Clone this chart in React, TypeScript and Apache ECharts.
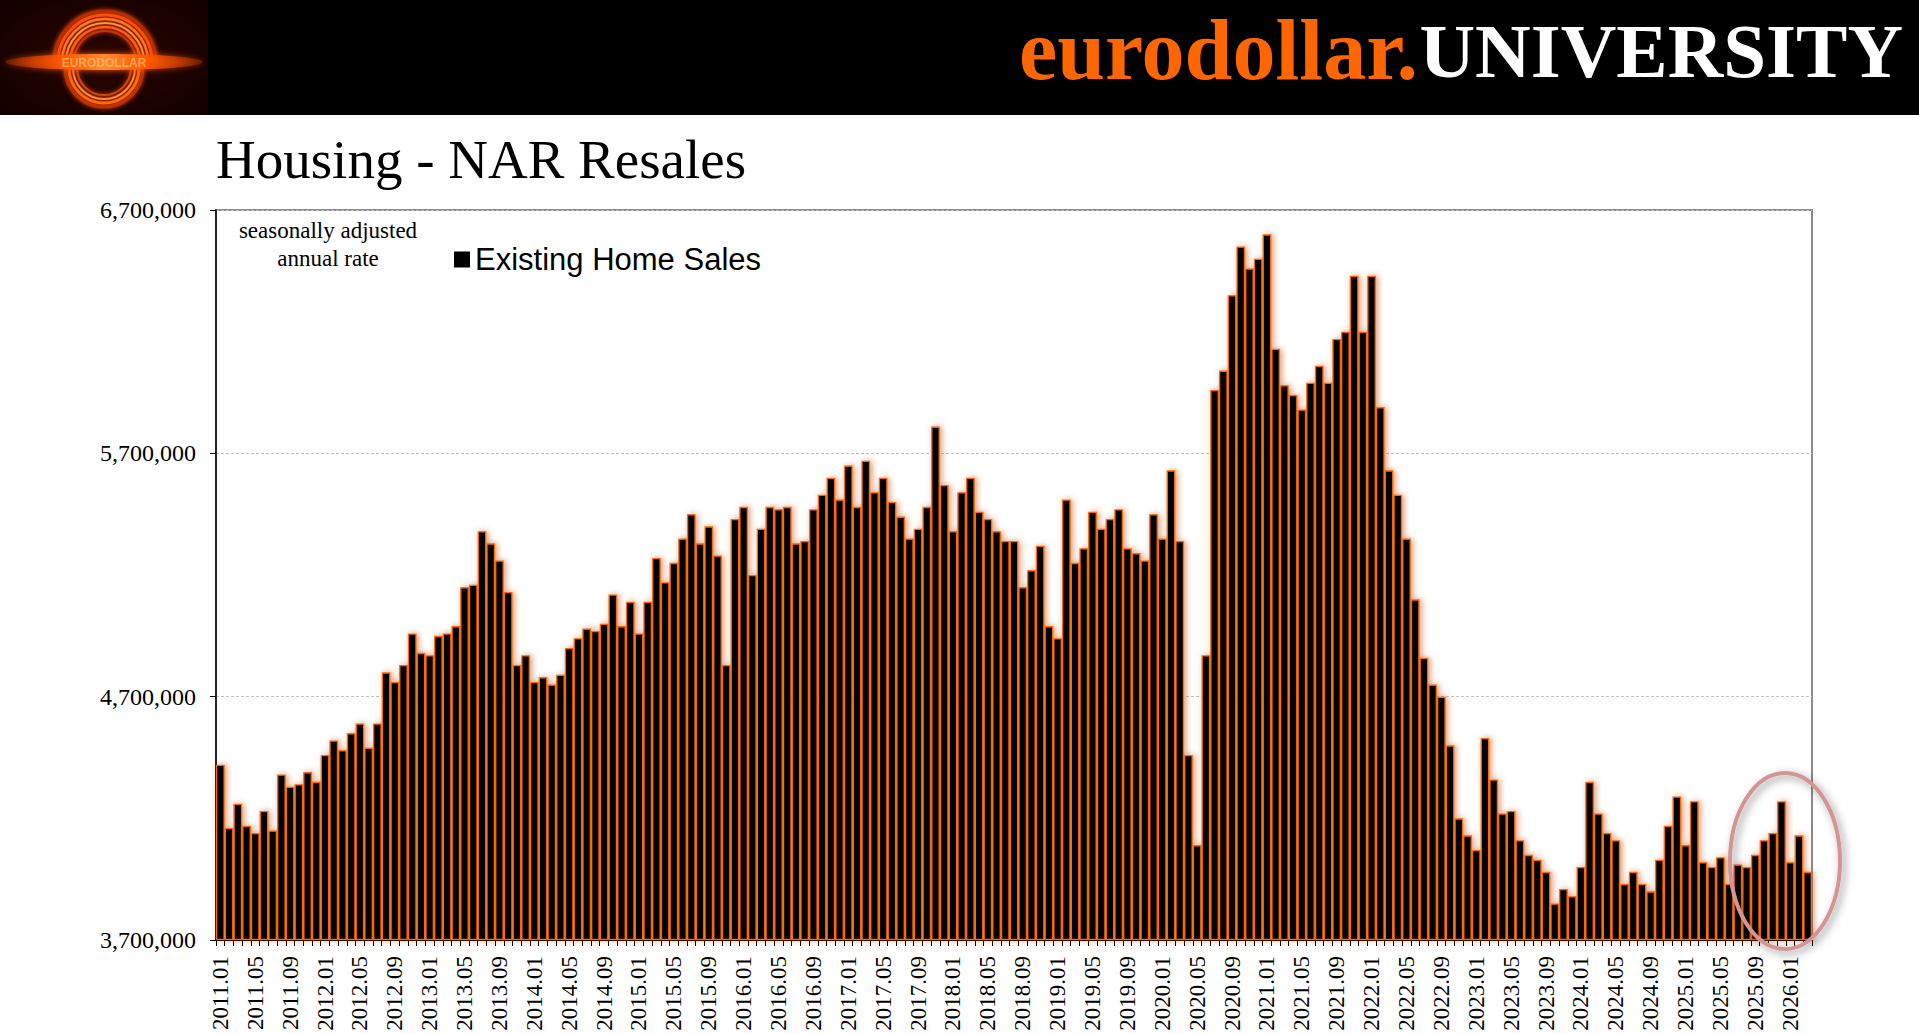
import React, { useEffect, useRef } from "react";
import * as echarts from "echarts";

// ---- data -------------------------------------------------------------
const startYear = 2011;

// Existing home sales, seasonally adjusted annual rate, thousands of units
const sales2011 = [4420, 4160, 4260, 4170, 4140, 4230, 4150, 4380, 4330, 4340, 4390, 4350];
const sales2012 = [4460, 4520, 4480, 4550, 4590, 4490, 4590, 4800, 4760, 4830, 4960, 4880];
const sales2013 = [4870, 4950, 4960, 4990, 5150, 5160, 5380, 5330, 5260, 5130, 4830, 4870];
const sales2014 = [4760, 4780, 4750, 4790, 4900, 4940, 4980, 4970, 5000, 5120, 4990, 5090];
const sales2015 = [4960, 5090, 5270, 5170, 5250, 5350, 5450, 5330, 5400, 5280, 4830, 5430];
const sales2016 = [5480, 5200, 5390, 5480, 5470, 5480, 5330, 5340, 5470, 5530, 5600, 5510];
const sales2017 = [5650, 5480, 5670, 5540, 5600, 5500, 5440, 5350, 5390, 5480, 5810, 5570];
const sales2018 = [5380, 5540, 5600, 5460, 5430, 5380, 5340, 5340, 5150, 5220, 5320, 4990];
const sales2019 = [4940, 5510, 5250, 5310, 5460, 5390, 5430, 5470, 5310, 5290, 5260, 5450];
const sales2020 = [5350, 5630, 5340, 4460, 4090, 4870, 5960, 6040, 6350, 6550, 6460, 6500];
const sales2021 = [6600, 6130, 5980, 5940, 5880, 5990, 6060, 5990, 6170, 6200, 6430, 6200];
const sales2022 = [6430, 5890, 5630, 5530, 5350, 5100, 4860, 4750, 4700, 4500, 4200, 4130];
const sales2023 = [4070, 4530, 4360, 4220, 4230, 4110, 4050, 4030, 3980, 3850, 3910, 3880];
const sales2024 = [4000, 4350, 4220, 4140, 4110, 3930, 3980, 3930, 3900, 4030, 4170, 4290];
const sales2025 = [4090, 4270, 4020, 4000, 4040, 3930, 4010, 4000, 4050, 4110, 4140, 4270];
const sales2026 = [4020, 4130, 3980];

const salesThousands = [
  ...sales2011, ...sales2012, ...sales2013, ...sales2014, ...sales2015, ...sales2016,
  ...sales2017, ...sales2018, ...sales2019, ...sales2020, ...sales2021, ...sales2022,
  ...sales2023, ...sales2024, ...sales2025, ...sales2026,
];

const categories: string[] = salesThousands.map(
  (_, i) => `${startYear + Math.floor(i / 12)}.${String((i % 12) + 1).padStart(2, "0")}`
);

// y axis: 3,700,000 .. 6,700,000 step 1,000,000
const axisBase = 3700000;
const axisTop = 6700000;
const axisStep = 1000000;

const seriesName = "Existing Home Sales";

const SERIF = "'Times New Roman', 'Liberation Serif', 'DejaVu Serif', serif";
const SANS = "Arial, 'Liberation Sans', Helvetica, sans-serif";

function logoElements(): any[] {
  const els: any[] = [];
  els.push({
    type: "rect",
    shape: { x: 0, y: 0, width: 208, height: 115 },
    style: {
      fill: new echarts.graphic.RadialGradient(0.5, 0.5, 0.75, [
        { offset: 0, color: "#2a0500" },
        { offset: 1, color: "#100000" },
      ]),
    },
    z: 1,
  });
  const upper = [
    { r: 51, c: "#a82a00", w: 3 },
    { r: 47, c: "#ff5000", w: 3 },
    { r: 43, c: "#ff7a20", w: 2.5 },
    { r: 39, c: "#ff9a40", w: 2 },
    { r: 35, c: "#ff6010", w: 2.5 },
    { r: 31, c: "#c03800", w: 2 },
  ];
  upper.forEach((a) =>
    els.push({
      type: "arc",
      shape: { cx: 105, cy: 62, r: a.r, startAngle: Math.PI, endAngle: Math.PI * 2 },
      style: { stroke: a.c, lineWidth: a.w, fill: "none", shadowBlur: 4, shadowColor: "#ff4400" },
      z: 2,
    })
  );
  const lower = [
    { r: 39, c: "#b03000", w: 3 },
    { r: 35, c: "#ff6a10", w: 3 },
    { r: 31, c: "#ff9040", w: 2 },
    { r: 27, c: "#d04800", w: 2 },
  ];
  lower.forEach((a) =>
    els.push({
      type: "arc",
      shape: { cx: 104, cy: 68, r: a.r, startAngle: 0, endAngle: Math.PI },
      style: { stroke: a.c, lineWidth: a.w, fill: "none", shadowBlur: 4, shadowColor: "#ff4400" },
      z: 2,
    })
  );
  els.push({
    type: "ellipse",
    shape: { cx: 104, cy: 62, rx: 99, ry: 8 },
    style: {
      fill: new echarts.graphic.LinearGradient(0, 0, 1, 0, [
        { offset: 0, color: "rgba(200,50,0,0.3)" },
        { offset: 0.3, color: "#ff5a00" },
        { offset: 0.5, color: "#ff8a30" },
        { offset: 0.7, color: "#ff5a00" },
        { offset: 1, color: "rgba(200,50,0,0.3)" },
      ]),
      shadowBlur: 6,
      shadowColor: "#ff5500",
    },
    z: 3,
  });
  els.push({
    type: "text",
    x: 104,
    y: 63,
    style: {
      text: "EURODOLLAR",
      fill: "#ffc070",
      font: `bold 12px ${SANS}`,
      align: "center",
      verticalAlign: "middle",
      opacity: 0.7,
    },
    z: 4,
  });
  return els;
}

export default function App() {
  const ref = useRef<HTMLDivElement>(null);

  useEffect(() => {
    if (!ref.current) return;
    const chart = echarts.init(ref.current, undefined, { renderer: "svg" });

    const option: any = {
      animation: false,
      backgroundColor: "#ffffff",
      grid: {
        left: 216,
        right: 107,
        top: 210,
        bottom: 94,
        show: true,
        borderColor: "#8a8a8a",
        borderWidth: 2,
        containLabel: false,
      },
      legend: {
        data: [seriesName],
        left: 449,
        top: 239,
        icon: "rect",
        itemWidth: 16,
        itemHeight: 16,
        selectedMode: false,
        itemStyle: { color: "#000", borderWidth: 0, shadowBlur: 0, shadowOffsetX: 0 },
        textStyle: { fontFamily: SANS, fontSize: 31, color: "#000" },
      },
      xAxis: {
        type: "category",
        data: categories,
        boundaryGap: true,
        axisLine: { show: true, lineStyle: { color: "#000", width: 1 } },
        axisTick: { show: true, interval: 0, length: 6, lineStyle: { color: "#000", width: 1 } },
        axisLabel: {
          interval: 3,
          rotate: 90,
          fontFamily: SERIF,
          fontSize: 23,
          color: "#000",
          margin: 16,
        },
        splitLine: { show: false },
      },
      yAxis: {
        type: "value",
        min: 0,
        max: axisTop - axisBase,
        interval: axisStep,
        axisLine: { show: true, lineStyle: { color: "#000", width: 1.5 } },
        axisTick: { show: true, length: 6, lineStyle: { color: "#000", width: 1 } },
        axisLabel: {
          fontFamily: SERIF,
          fontSize: 24,
          color: "#000",
          margin: 20,
          formatter: (v: number) => (v + axisBase).toLocaleString("en-US"),
        },
        splitLine: { show: true, lineStyle: { color: "#c0c0c0", type: [3, 2], width: 1 } },
      },
      series: [
        {
          name: seriesName,
          type: "bar",
          data: salesThousands.map((v) => v * 1000 - axisBase),
          barCategoryGap: "0%",
          silent: true,
          itemStyle: {
            color: "#000",
            borderColor: "#ff6a00",
            borderWidth: 1.3,
            shadowColor: "rgba(200,80,10,0.6)",
            shadowBlur: 6,
            shadowOffsetX: 2,
            shadowOffsetY: 0,
          },
        },
      ],
      graphic: [
        {
          type: "rect",
          shape: { x: 0, y: 0, width: 1919, height: 115 },
          style: { fill: "#000" },
          z: 0,
        },
        ...logoElements(),
        {
          type: "text",
          x: 1418,
          y: 50,
          style: {
            text: "eurodollar.",
            fill: "#ff6600",
            font: `bold 86px ${SERIF}`,
            align: "right",
            verticalAlign: "middle",
          },
          z: 5,
        },
        {
          type: "text",
          x: 1903,
          y: 51,
          style: {
            text: "UNIVERSITY",
            fill: "#ffffff",
            font: `bold 77px ${SERIF}`,
            align: "right",
            verticalAlign: "middle",
          },
          z: 5,
        },
        {
          type: "text",
          x: 216,
          y: 159,
          style: {
            text: "Housing - NAR Resales",
            fill: "#000",
            font: `55px ${SERIF}`,
            align: "left",
            verticalAlign: "middle",
          },
          z: 5,
        },
        {
          type: "text",
          x: 328,
          y: 230,
          style: {
            text: "seasonally adjusted",
            fill: "#000",
            font: `23px ${SERIF}`,
            align: "center",
            verticalAlign: "middle",
          },
          z: 5,
        },
        {
          type: "text",
          x: 328,
          y: 258,
          style: {
            text: "annual rate",
            fill: "#000",
            font: `23px ${SERIF}`,
            align: "center",
            verticalAlign: "middle",
          },
          z: 5,
        },
        {
          type: "ellipse",
          shape: { cx: 1785, cy: 861, rx: 55, ry: 88 },
          style: {
            fill: "none",
            stroke: "#d49493",
            lineWidth: 4,
            shadowBlur: 8,
            shadowColor: "rgba(0,0,0,0.45)",
            shadowOffsetX: 3,
            shadowOffsetY: 3,
          },
          z: 20,
        },
      ],
    };

    chart.setOption(option);
    return () => chart.dispose();
  }, []);

  return (
    <div
      ref={ref}
      style={{ position: "fixed", left: 0, top: 0, width: 1919, height: 1034, background: "#fff" }}
    />
  );
}
